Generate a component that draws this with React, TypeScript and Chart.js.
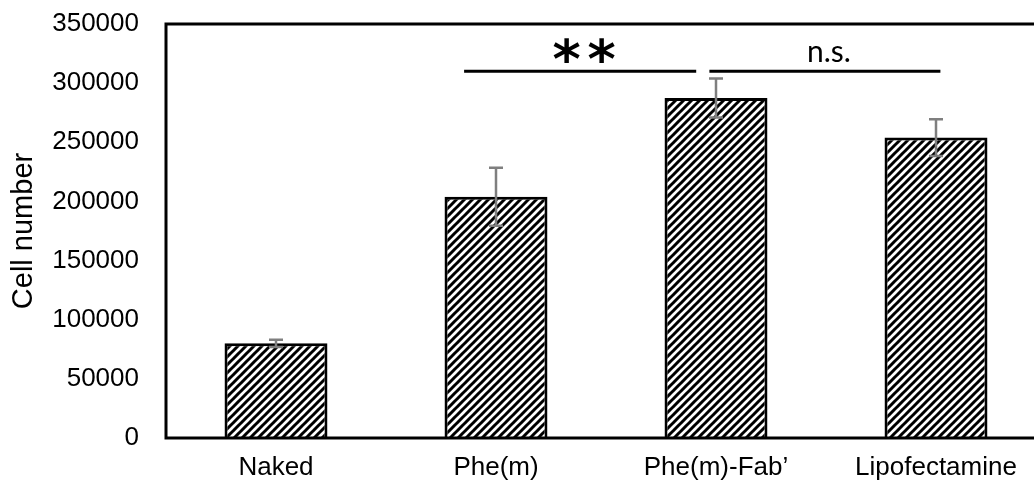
import React, { useEffect, useRef } from 'react';
import { Chart, registerables } from 'chart.js';

Chart.register(...registerables);

const categories = ['Naked', 'Phe(m)', 'Phe(m)-Fab\u2019', 'Lipofectamine'];
const cellNumbers = [80000, 204000, 287500, 254000];
const errorValues = [3000, 24500, 16500, 15500];
const yMin = 0;
const yMax = 350000;
const yStep = 50000;
const yTitle = 'Cell number';
const sigLabels = ['**', 'n.s.'];
const sigPairs = [[1, 2], [2, 3]];
const sigLevel = 310000;

const FONT = "'Liberation Sans', Arial, sans-serif";

function makeHatch(ctx: CanvasRenderingContext2D): CanvasPattern | string {
  const c = document.createElement('canvas');
  const s = 8;
  c.width = s;
  c.height = s;
  const g = c.getContext('2d');
  if (!g) return '#000';
  g.fillStyle = '#fff';
  g.fillRect(0, 0, s, s);
  g.strokeStyle = '#000';
  g.lineWidth = 3;
  g.lineCap = 'square';
  g.beginPath();
  g.moveTo(-1, s + 1);
  g.lineTo(s + 1, -1);
  g.moveTo(-1, 1);
  g.lineTo(1, -1);
  g.moveTo(s - 1, s + 1);
  g.lineTo(s + 1, s - 1);
  g.stroke();
  return ctx.createPattern(c, 'repeat') || '#000';
}

const extrasPlugin = {
  id: 'extras',
  afterDatasetsDraw(chart: any) {
    const { ctx, chartArea, scales } = chart;
    const xs = scales.x;
    const ys = scales.y;
    ctx.save();
    // error bars
    ctx.strokeStyle = '#7f7f7f';
    ctx.lineWidth = 2.5;
    const meta = chart.getDatasetMeta(0);
    meta.data.forEach((bar: any, i: number) => {
      const x = bar.x;
      const yTop = ys.getPixelForValue(cellNumbers[i] + errorValues[i]);
      const yBot = ys.getPixelForValue(cellNumbers[i] - errorValues[i]);
      ctx.beginPath();
      ctx.moveTo(x, yTop);
      ctx.lineTo(x, yBot);
      ctx.moveTo(x - 7, yTop);
      ctx.lineTo(x + 7, yTop);
      ctx.moveTo(x - 7, yBot);
      ctx.lineTo(x + 7, yBot);
      ctx.stroke();
    });
    // frame
    ctx.strokeStyle = '#000';
    ctx.lineWidth = 3;
    ctx.strokeRect(chartArea.left, chartArea.top, chartArea.right - chartArea.left, chartArea.bottom - chartArea.top);
    // significance brackets
    const offs = [[-0.145, -0.09], [-0.03, 0.02]];
    const y = ys.getPixelForValue(sigLevel);
    sigPairs.forEach((p, k) => {
      const x1 = xs.getPixelForValue(p[0] + offs[k][0]);
      const x2 = xs.getPixelForValue(p[1] + offs[k][1]);
      ctx.strokeStyle = '#000';
      ctx.lineWidth = 3;
      ctx.beginPath();
      ctx.moveTo(x1, y);
      ctx.lineTo(x2, y);
      ctx.stroke();
      const cx = (x1 + x2) / 2 + 4;
      ctx.fillStyle = '#000';
      ctx.textAlign = 'center';
      if (sigLabels[k] === '**') {
        ctx.font = "bold 54px 'DejaVu Sans', sans-serif";
        ctx.textBaseline = 'alphabetic';
        const chars = sigLabels[k].split('');
        chars.forEach((ch, j) => {
          const m = ctx.measureText(ch);
          const base = y - 21 + (m.actualBoundingBoxAscent - m.actualBoundingBoxDescent) / 2;
          ctx.fillText(ch, cx + (j - (chars.length - 1) / 2) * 35, base);
        });
      } else {
        ctx.font = "30px Lato, 'Open Sans', sans-serif";
        ctx.textBaseline = 'alphabetic';
        ctx.fillText(sigLabels[k], cx, y - 9);
      }
    });
    ctx.restore();
  },
};

export default function App() {
  const ref = useRef<HTMLCanvasElement | null>(null);
  useEffect(() => {
    const canvas = ref.current;
    if (!canvas) return;
    const ctx = canvas.getContext('2d');
    if (!ctx) return;
    const hatch = makeHatch(ctx);
    const chart = new Chart(canvas, {
      type: 'bar',
      data: {
        labels: categories,
        datasets: [
          {
            data: cellNumbers,
            backgroundColor: hatch as any,
            borderColor: '#000',
            borderWidth: 3,
            categoryPercentage: 1,
            barPercentage: 0.468,
          },
        ],
      },
      options: {
        responsive: false,
        animation: false,
        layout: { padding: { top: 24, right: 14, left: 0, bottom: 0 } },
        plugins: { legend: { display: false }, tooltip: { enabled: false } },
        scales: {
          x: {
            grid: { display: false, drawTicks: false },
            border: { display: false },
            ticks: { font: { family: FONT, size: 26 }, color: '#000', padding: 14, maxRotation: 0, autoSkip: false },
            afterFit: (s: any) => {
              s.height = 48;
              s.paddingLeft = 0;
              s.paddingRight = 0;
            },
          },
          y: {
            min: yMin,
            max: yMax,
            grid: { display: false, drawTicks: false },
            border: { display: false },
            ticks: {
              stepSize: yStep,
              font: { family: FONT, size: 26 },
              color: '#000',
              padding: 27,
              callback: (v: any) => String(v),
            },
            title: {
              display: true,
              text: yTitle,
              font: { family: FONT, size: 29 },
              color: '#000',
              padding: { top: 7, bottom: 0 },
            },
            afterFit: (s: any) => {
              s.width = 166;
              s.paddingTop = 0;
              s.paddingBottom = 0;
            },
          },
        },
      },
      plugins: [extrasPlugin],
    });
    return () => chart.destroy();
  }, []);
  return (
    <div style={{ position: 'absolute', left: 0, top: 0, width: 1034, height: 486, overflow: 'hidden', background: '#fff' }}>
      <canvas ref={ref} width={1060} height={486} style={{ display: 'block' }} />
    </div>
  );
}
